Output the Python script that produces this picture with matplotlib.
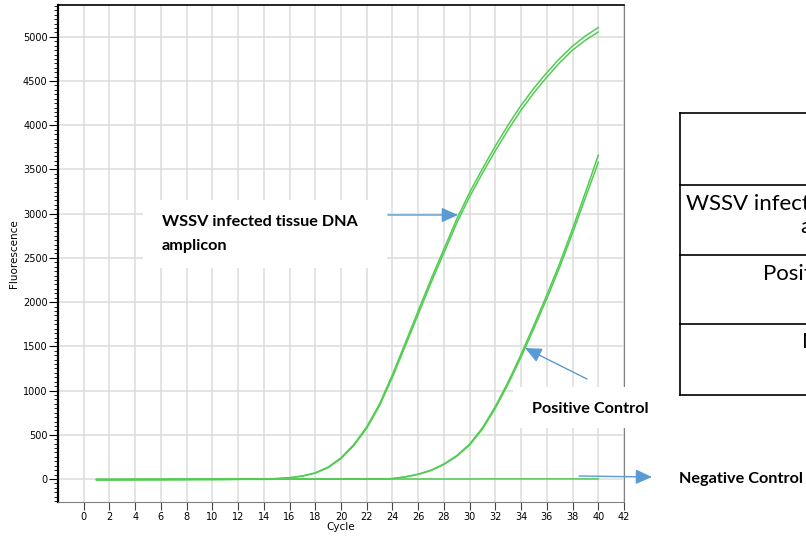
import numpy as np
import matplotlib.pyplot as plt
from matplotlib.lines import Line2D
from matplotlib.patches import Rectangle

W, H = 806, 538

cycles = list(range(1, 41))

# WSSV infected tissue DNA (two replicate wells)
wssv_a = [-8, -8, -7, -7, -6, -6, -5, -5, -4, -4, -3, -2, -1, 1, 5, 15, 35, 70, 135, 240,
          390, 590, 850, 1180, 1540, 1900, 2260, 2600, 2940, 3240, 3510, 3765, 4005, 4225, 4420, 4595,
          4755, 4895, 5010, 5105]
wssv_b = [-9, -9, -8, -8, -7, -7, -6, -6, -5, -5, -4, -3, -2, 0, 4, 13, 32, 66, 128, 230,
          378, 574, 830, 1152, 1505, 1862, 2220, 2558, 2895, 3192, 3460, 3712, 3950, 4172, 4368, 4545,
          4708, 4850, 4962, 5055]

# positive control (two replicate wells)
pos_a = [-6, -6, -6, -5, -5, -5, -5, -4, -4, -4, -4, -3, -3, -3, -2, -2, -2, -1, -1, 0,
         0, 0, 0, 5, 25, 55, 100, 170, 265, 395, 580, 820, 1100, 1410, 1740, 2080,
         2440, 2830, 3240, 3660]
pos_b = [-7, -7, -7, -6, -6, -6, -6, -5, -5, -5, -5, -4, -4, -4, -3, -3, -3, -2, -2, -1,
         -1, -1, -1, 4, 23, 52, 96, 164, 257, 384, 565, 800, 1075, 1380, 1705, 2040,
         2395, 2780, 3180, 3580]

# negative control
neg = [-3, -3, -3, -2, -2, -2, -2, -2, -1, -1, -1, -1, -1, 0, 0, 0, 0, 0, 0, 0,
       0, 0, 0, 0, 0, 0, 0, 0, 0, 0, 1, 1, 1, 1, 1, 1, 1, 1, 1, 1]

xticks = list(range(0, 43, 2))
yticks = list(range(0, 5001, 500))

green = '#52cc52'
blue = '#5b9bd5'


def fp(x, y):
    # image pixel -> figure fraction
    return x / W, 1 - y / H


fig = plt.figure(figsize=(W / 100, H / 100), dpi=100)
ax = fig.add_axes([58 / W, 1 - 502 / H, (624 - 58) / W, (502 - 5) / H])

for c in (wssv_a, wssv_b, pos_a, pos_b, neg):
    ax.plot(cycles, c, color=green, lw=1.1, zorder=3)

ax.set_xlim(-2, 42)
ax.set_ylim(-260, 5360)
ax.set_xticks(xticks)
ax.set_yticks(yticks)
ax.set_yticks(np.arange(-250, 5351, 50), minor=True)
ax.grid(True, color='#dcdcdc', lw=1.1, zorder=0)
ax.set_axisbelow(True)

ax.tick_params(axis='x', length=6, width=0.8, color='#444444', labelsize=7, pad=1.5)
ax.tick_params(axis='y', which='major', length=6.5, width=0.8, labelsize=7, pad=1)
ax.tick_params(axis='y', which='minor', length=3, width=0.6)
ax.spines['left'].set_linewidth(1.6)
ax.spines['top'].set_linewidth(1.2)
ax.spines['right'].set_color('#808080')
ax.spines['bottom'].set_color('#808080')
ax.set_xlabel('Cycle', fontsize=7.5, labelpad=0)
ax.set_ylabel('Fluorescence', fontsize=7.5, labelpad=3)

# white label boxes
for (x0, y0, x1, y1) in [(143, 200, 387, 268), (513, 387, 665, 428)]:
    fx0, fy1 = fp(x0, y1)
    fx1, fy0 = fp(x1, y0)
    fig.patches.append(Rectangle((fx0, fy1), fx1 - fx0, fy0 - fy1, transform=fig.transFigure,
                                 facecolor='white', edgecolor='none', zorder=5))

lab = dict(family='Lato', weight='bold', fontsize=11.7, color='black', zorder=6)
fig.text(*fp(162, 222), 'WSSV infected tissue DNA', va='center', ha='left', **lab)
fig.text(*fp(162, 246), 'amplicon', va='center', ha='left', **lab)
fig.text(*fp(532, 409), 'Positive Control', va='center', ha='left', **lab)
fig.text(*fp(679, 479), 'Negative Control', va='center', ha='left', **lab)

# arrows
for tail, tip in [((388, 215), (458, 215)), ((587, 379), (525, 348)), ((579, 476), (652, 477))]:
    ax.annotate('', xy=fp(*tip), xytext=fp(*tail), xycoords='figure fraction',
                textcoords='figure fraction', annotation_clip=False,
                arrowprops=dict(arrowstyle='-|>,head_length=1.0,head_width=0.45', color=blue,
                                lw=1.0, shrinkA=0, shrinkB=0), zorder=7)

# partial table on the right
tl = dict(color='black', lw=1.2, transform=fig.transFigure)
fig.add_artist(Line2D([680 / W, 680 / W], [1 - 113 / H, 1 - 395 / H], **tl))
for yy in (113, 185, 255, 324, 395):
    fig.add_artist(Line2D([680 / W, 1.0], [1 - yy / H, 1 - yy / H], **tl))

cell = dict(family='Lato', fontsize=16, color='black', va='baseline', ha='left')
fig.text(*fp(686, 210), 'WSSV infected tissue DNA', **cell)
fig.text(*fp(800, 233), 'amplicon', **cell)
fig.text(*fp(763, 280), 'Positive Control', **cell)
fig.text(*fp(802, 348), 'Negative Control', **cell)

fig.savefig('out.png', dpi=100)
